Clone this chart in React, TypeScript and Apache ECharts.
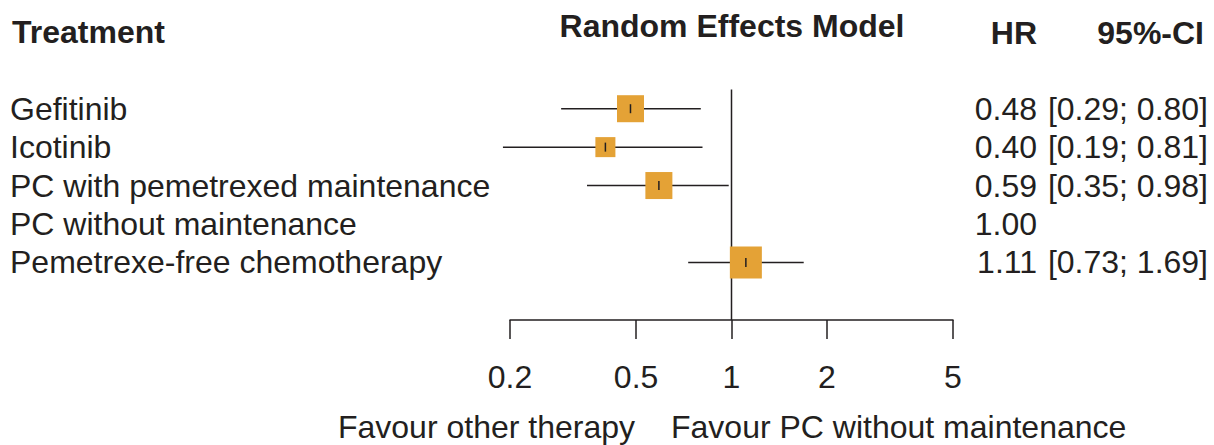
import { useEffect, useRef } from "react";
import * as echarts from "echarts";

const treatments = [
  "Gefitinib",
  "Icotinib",
  "PC with pemetrexed maintenance",
  "PC without maintenance",
  "Pemetrexe-free chemotherapy",
];
const hr = [0.48, 0.4, 0.59, 1.0, 1.11];
const ciLower: (number | null)[] = [0.29, 0.19, 0.35, null, 0.73];
const ciUpper: (number | null)[] = [0.8, 0.81, 0.98, null, 1.69];
const weights = [25.3, 13.9, 25.3, 0, 35.5];
const hrLabels = ["0.48", "0.40", "0.59", "1.00", "1.11"];
const ciLabels = ["[0.29; 0.80]", "[0.19; 0.81]", "[0.35; 0.98]", "", "[0.73; 1.69]"];
const xTicks = [0.2, 0.5, 1, 2, 5];
const refValue = 1;

const FONT = '"Liberation Sans", Arial, Helvetica, sans-serif';
const TXT = "#231F20";
const BOX = "#E4A236";

export default function App() {
  const ref = useRef<HTMLDivElement>(null);
  useEffect(() => {
    document.body.style.margin = "0";
    const chart = echarts.init(ref.current!, null, { renderer: "svg" });
    const maxW = Math.max(...weights);
    const option: any = {
      animation: false,
      backgroundColor: "#ffffff",
      grid: { left: 510, right: 261, top: 89.5, bottom: 125 },
      xAxis: {
        type: "log",
        logBase: 10,
        min: 0.2,
        max: 5,
        position: "bottom",
        axisLine: { show: true, onZero: false, lineStyle: { color: TXT, width: 1.5 } },
        axisTick: {
          show: true,
          inside: false,
          customValues: xTicks,
          length: 19,
          lineStyle: { color: TXT, width: 1.5 },
        },
        axisLabel: {
          customValues: xTicks,
          margin: 41,
          fontSize: 32,
          fontFamily: FONT,
          color: TXT,
          formatter: (v: number) => String(+Number(v).toPrecision(3)),
        },
        splitLine: { show: false },
        minorTick: { show: false },
      },
      yAxis: {
        type: "value",
        min: -0.5,
        max: 5.5,
        inverse: true,
        show: false,
      },
      graphic: [
        {
          type: "text",
          x: 12,
          y: 32,
          style: { text: "Treatment", fontSize: 32, fontWeight: "bold", fontFamily: FONT, fill: TXT, align: "left", verticalAlign: "middle" },
        },
        {
          type: "text",
          x: 732,
          y: 26,
          style: { text: "Random Effects Model", fontSize: 32, fontWeight: "bold", fontFamily: FONT, fill: TXT, align: "center", verticalAlign: "middle" },
        },
        {
          type: "text",
          x: 1037,
          y: 33,
          style: { text: "HR", fontSize: 32, fontWeight: "bold", fontFamily: FONT, fill: TXT, align: "right", verticalAlign: "middle" },
        },
        {
          type: "text",
          x: 1204,
          y: 33,
          style: { text: "95%-CI", fontSize: 32, fontWeight: "bold", fontFamily: FONT, fill: TXT, align: "right", verticalAlign: "middle" },
        },
        {
          type: "text",
          x: 635,
          y: 427,
          style: { text: "Favour other therapy", fontSize: 32, fontFamily: FONT, fill: TXT, align: "right", verticalAlign: "middle" },
        },
        {
          type: "text",
          x: 671,
          y: 427,
          style: { text: "Favour PC without maintenance", fontSize: 32, fontFamily: FONT, fill: TXT, align: "left", verticalAlign: "middle" },
        },
      ],
      series: [
        {
          type: "line",
          z: 1,
          symbol: "none",
          silent: true,
          data: [
            [refValue, -0.5],
            [refValue, 5.5],
          ],
          lineStyle: { color: TXT, width: 1.5 },
        },
        {
          type: "custom",
          z: 5,
          clip: false,
          silent: true,
          data: hr.map((v, i) => [v, i]),
          renderItem: (params: any, api: any) => {
            const i = params.dataIndex;
            const c = api.coord([hr[i], i]);
            const y = c[1];
            const children: any[] = [
              {
                type: "text",
                x: 10,
                y: y,
                style: { text: treatments[i], fontSize: 32, fontFamily: FONT, fill: TXT, align: "left", verticalAlign: "middle" },
              },
              {
                type: "text",
                x: 1037,
                y: y,
                style: { text: hrLabels[i], fontSize: 32, fontFamily: FONT, fill: TXT, align: "right", verticalAlign: "middle" },
              },
              {
                type: "text",
                x: 1208,
                y: y,
                style: { text: ciLabels[i], fontSize: 32, fontFamily: FONT, fill: TXT, align: "right", verticalAlign: "middle" },
              },
            ];
            const lo = ciLower[i];
            const hi = ciUpper[i];
            if (lo != null && hi != null) {
              const l = api.coord([lo, i]);
              const h = api.coord([hi, i]);
              children.push({
                type: "line",
                shape: { x1: l[0], y1: y, x2: h[0], y2: y },
                style: { stroke: TXT, lineWidth: 1.5 },
              });
              const s = 32 * Math.sqrt(weights[i] / maxW);
              children.push({
                type: "rect",
                shape: { x: c[0] - s / 2, y: y - s / 2, width: s, height: s },
                style: { fill: BOX },
              });
              children.push({
                type: "line",
                shape: { x1: c[0], y1: y - 4.5, x2: c[0], y2: y + 4.5 },
                style: { stroke: TXT, lineWidth: 1.5 },
              });
            }
            return { type: "group", children };
          },
        },
      ],
    };
    chart.setOption(option);
    return () => chart.dispose();
  }, []);
  return <div ref={ref} style={{ width: 1214, height: 445 }} />;
}
